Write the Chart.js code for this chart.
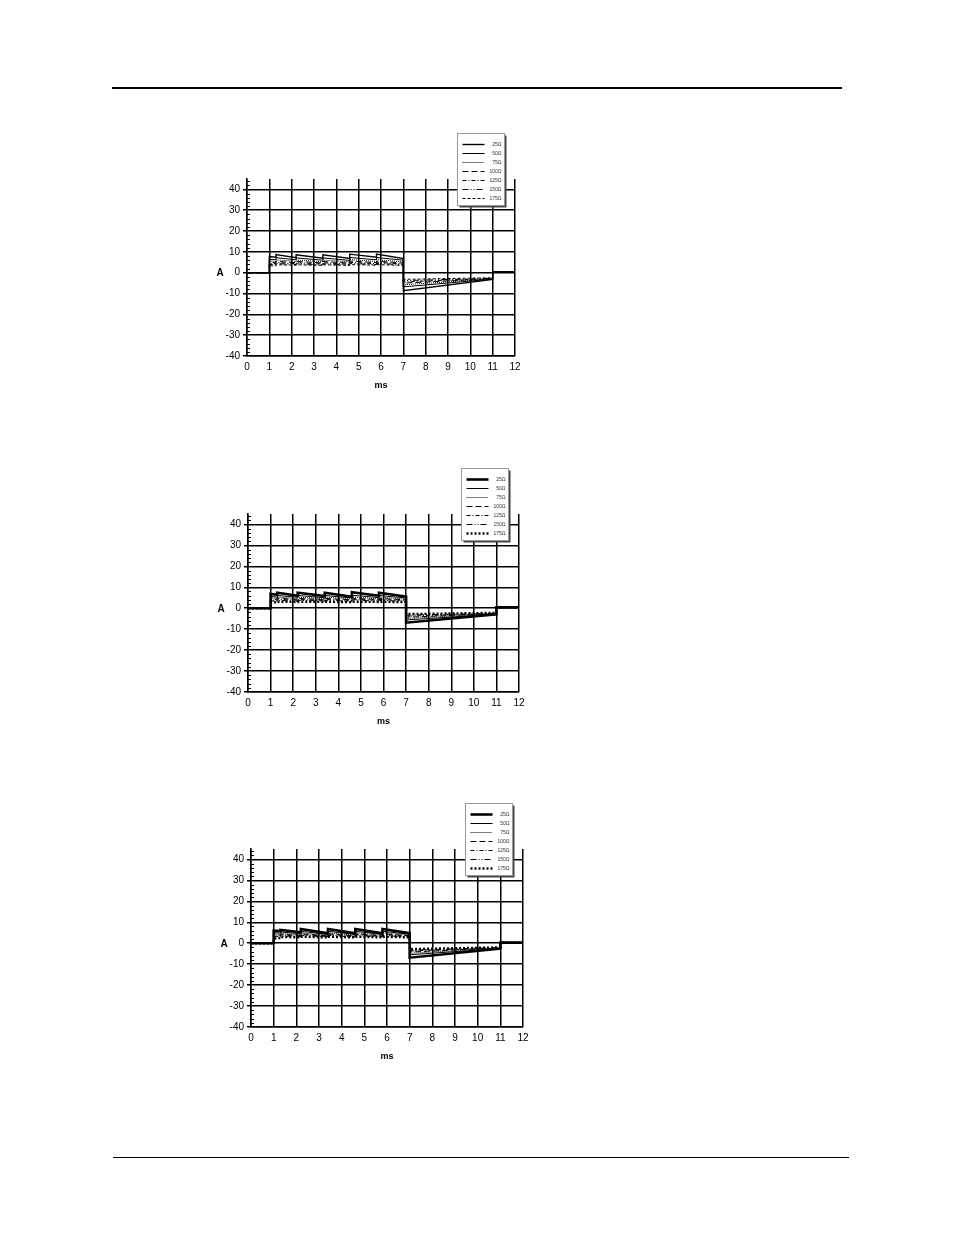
<!DOCTYPE html>
<html>
<head>
<meta charset="utf-8">
<script src="https://cdn.jsdelivr.net/npm/chart.js@4.4.1/dist/chart.umd.min.js"></script>
<style>
  html, body { margin: 0; padding: 0; background: #fff; }
  body { width: 954px; height: 1235px; position: relative; overflow: hidden; }
  .rule { position: absolute; background: #000; }
  .box { position: absolute; }
</style>
</head>
<body>
<div class="rule" style="left:112px; top:87px; width:730px; height:2px"></div>
<div class="rule" style="left:113px; top:1157px; width:736px; height:1px"></div>
<div class="box" id="box1"><canvas id="chart1"></canvas></div>
<div class="box" id="box2"><canvas id="chart2"></canvas></div>
<div class="box" id="box3"><canvas id="chart3"></canvas></div>
<script>
// time knots (ms) shared by every trace; repeated values are the vertical steps
const timesMs = [0, 1, 1, 1.3, 1.3, 2.2, 2.2, 3.4, 3.4, 4.6, 4.6, 5.8, 5.8, 7, 7, 11, 11, 12];
const impedances = ['25Ω', '50Ω', '75Ω', '100Ω', '125Ω', '150Ω', '175Ω'];
const xTicks = [0, 1, 2, 3, 4, 5, 6, 7, 8, 9, 10, 11, 12];
const yTicks = [-40, -30, -20, -10, 0, 10, 20, 30, 40];
const yMinorStep = 2;

// chart 1 currents (A)
const amps1_25  = [0, 0, 7.8, 7.4, 8.7, 7.2, 8.6, 7.0, 8.6, 6.8, 8.9, 7.4, 8.9, 6.8, -8.6, -3.2, 0.4, 0.4];
const amps1_50  = [0, 0, 6.5, 6.2, 7.2, 6.2, 7.1, 6.0, 7.1, 5.9, 7.3, 6.2, 7.3, 6.0, -6.8, -3.1, 0.4, 0.4];
const amps1_75  = [0, 0, 5.6, 5.4, 6.2, 5.4, 6.1, 5.3, 6.1, 5.2, 6.3, 5.4, 6.3, 5.2, -5.8, -3.0, 0.4, 0.4];
const amps1_100 = [0, 0, 5.0, 4.8, 5.5, 4.8, 5.4, 4.7, 5.4, 4.6, 5.6, 4.8, 5.6, 4.6, -5.0, -2.9, 0.4, 0.4];
const amps1_125 = [0, 0, 4.5, 4.3, 4.9, 4.3, 4.8, 4.2, 4.8, 4.1, 5.0, 4.3, 5.0, 4.2, -4.4, -2.8, 0.4, 0.4];
const amps1_150 = [0, 0, 4.0, 3.9, 4.4, 3.9, 4.3, 3.8, 4.3, 3.8, 4.5, 3.9, 4.5, 3.8, -3.8, -2.7, 0.4, 0.4];
const amps1_175 = [0, 0, 3.3, 3.3, 3.8, 3.6, 3.8, 3.5, 3.8, 3.5, 3.9, 3.6, 3.9, 3.5, -3.2, -2.4, 0.4, 0.4];

// chart 2 currents (A)
const amps2_25  = [0, 0, 6.8, 6.4, 7.4, 6.0, 7.4, 5.8, 7.4, 5.5, 7.6, 6.0, 7.4, 5.6, -6.9, -2.9, 0.4, 0.4];
const amps2_50  = [0, 0, 5.6, 5.3, 6.1, 5.2, 6.1, 5.0, 6.1, 4.9, 6.2, 5.1, 6.1, 4.9, -5.6, -2.8, 0.4, 0.4];
const amps2_75  = [0, 0, 4.9, 4.7, 5.3, 4.6, 5.3, 4.5, 5.3, 4.4, 5.4, 4.5, 5.3, 4.4, -4.9, -2.7, 0.4, 0.4];
const amps2_100 = [0, 0, 4.4, 4.2, 4.8, 4.2, 4.7, 4.1, 4.7, 4.0, 4.8, 4.1, 4.7, 4.0, -4.3, -2.6, 0.4, 0.4];
const amps2_125 = [0, 0, 3.9, 3.8, 4.3, 3.8, 4.2, 3.7, 4.2, 3.7, 4.3, 3.8, 4.2, 3.7, -3.8, -2.5, 0.4, 0.4];
const amps2_150 = [0, 0, 3.5, 3.4, 3.8, 3.4, 3.8, 3.4, 3.8, 3.3, 3.9, 3.4, 3.8, 3.3, -3.3, -2.4, 0.4, 0.4];
const amps2_175 = [0, 0, 2.8, 2.8, 3.1, 3.0, 3.1, 3.0, 3.1, 2.9, 3.1, 3.0, 3.1, 2.9, -2.8, -2.2, 0.4, 0.4];

// chart 3 currents (A)
const amps3_25  = [0, 0, 6.0, 5.8, 6.3, 5.2, 6.8, 4.7, 6.8, 4.7, 6.8, 4.7, 6.8, 4.8, -6.9, -2.6, 0.3, 0.3];
const amps3_50  = [0, 0, 5.0, 4.8, 5.4, 4.5, 5.7, 4.2, 5.7, 4.2, 5.7, 4.2, 5.7, 4.3, -5.5, -2.5, 0.3, 0.3];
const amps3_75  = [0, 0, 4.4, 4.2, 4.7, 4.0, 5.0, 3.8, 5.0, 3.8, 5.0, 3.8, 5.0, 3.9, -4.8, -2.4, 0.3, 0.3];
const amps3_100 = [0, 0, 4.0, 3.8, 4.3, 3.7, 4.5, 3.5, 4.5, 3.5, 4.5, 3.5, 4.5, 3.6, -4.2, -2.3, 0.3, 0.3];
const amps3_125 = [0, 0, 3.6, 3.5, 3.9, 3.4, 4.1, 3.3, 4.1, 3.3, 4.1, 3.3, 4.1, 3.3, -3.7, -2.2, 0.3, 0.3];
const amps3_150 = [0, 0, 3.3, 3.2, 3.5, 3.1, 3.7, 3.1, 3.7, 3.0, 3.7, 3.1, 3.7, 3.0, -3.3, -2.1, 0.3, 0.3];
const amps3_175 = [0, 0, 2.2, 2.5, 3.0, 2.8, 3.1, 2.8, 3.1, 2.8, 3.1, 2.8, 3.1, 2.8, -2.8, -2.0, 0.3, 0.3];

// line looks, one per impedance
const styles1 = [
  {w: 1.4, dash: []}, {w: 1, dash: []}, {w: 1, dash: [1, 1]}, {w: 1, dash: [6, 3]},
  {w: 1, dash: [4, 2, 1, 2]}, {w: 1, dash: [6, 2, 1, 2, 1, 2]}, {w: 1, dash: [3, 2]}
];
const styles23 = [
  {w: 2.6, dash: []}, {w: 1, dash: []}, {w: 1, dash: [1, 1]}, {w: 1, dash: [6, 3]},
  {w: 1, dash: [4, 2, 1, 2]}, {w: 1, dash: [6, 2, 1, 2, 1, 2]}, {w: 2.4, dash: [2, 2]}
];

const FONT = "'Liberation Sans', Arial, sans-serif";

function points(vals) {
  return vals.map((v, i) => ({x: timesMs[i], y: v}));
}

// minor ticks, axis titles and the boxed legend
const decor = {
  id: 'decor',
  afterDraw(chart) {
    const ctx = chart.ctx;
    const a = chart.chartArea;
    const y = chart.scales.y;
    ctx.save();
    ctx.strokeStyle = '#000';
    ctx.lineWidth = 1;
    for (let v = yTicks[0]; v <= y.max; v += yMinorStep) {
      if (v % 10 === 0) continue;
      const py = Math.round(y.getPixelForValue(v)) + 0.5;
      ctx.beginPath();
      ctx.moveTo(a.left, py);
      ctx.lineTo(a.left + 3, py);
      ctx.stroke();
    }
    ctx.fillStyle = '#000';
    ctx.font = 'bold 10px ' + FONT;
    ctx.textAlign = 'center';
    ctx.textBaseline = 'middle';
    ctx.fillText('A', a.left - 27, y.getPixelForValue(0) + 1);
    ctx.font = 'bold 9px ' + FONT;
    ctx.fillText('ms', (a.left + a.right) / 2, a.bottom + 30);

    // legend box
    const lx = Math.round(a.right - 58) + 0.5;
    const ly = Math.round(a.top - 46) + 0.5;
    const lw = 47, lh = 72;
    ctx.fillStyle = '#444';
    ctx.fillRect(lx + 2, ly + 2, lw, lh);
    ctx.fillStyle = '#fff';
    ctx.fillRect(lx, ly, lw, lh);
    ctx.strokeStyle = '#999';
    ctx.lineWidth = 1;
    ctx.strokeRect(lx, ly, lw, lh);
    chart.data.datasets.forEach((ds, i) => {
      const ry = Math.round(ly + 10 + i * 9) + 0.5;
      ctx.strokeStyle = '#000';
      ctx.lineWidth = ds.borderWidth;
      ctx.setLineDash(ds.borderDash);
      ctx.beginPath();
      ctx.moveTo(lx + 5, ry);
      ctx.lineTo(lx + 27, ry);
      ctx.stroke();
      ctx.setLineDash([]);
      ctx.fillStyle = '#333';
      ctx.font = '5px ' + FONT;
      ctx.textAlign = 'right';
      ctx.textBaseline = 'middle';
      ctx.fillText(ds.label, lx + 44, ry);
    });
    ctx.restore();
  }
};

function makeChart(id, boxId, plot, series, styles) {
  const box = document.getElementById(boxId);
  box.style.left = (plot.l - 50) + 'px';
  box.style.top = (plot.t - 55) + 'px';
  box.style.width = (plot.r - plot.l + 65) + 'px';
  box.style.height = (plot.b - plot.t + 105) + 'px';
  new Chart(document.getElementById(id), {
    type: 'line',
    data: {
      datasets: series.map((vals, i) => ({
        label: impedances[i],
        data: points(vals),
        borderColor: '#000',
        borderWidth: styles[i].w,
        borderDash: styles[i].dash,
        pointRadius: 0,
        tension: 0,
        fill: false
      }))
    },
    options: {
      responsive: true,
      maintainAspectRatio: false,
      animation: false,
      layout: { padding: { top: 55, right: 15, left: 0, bottom: 0 } },
      plugins: { legend: { display: false }, tooltip: { enabled: false } },
      scales: {
        x: {
          type: 'linear',
          min: xTicks[0],
          max: xTicks[xTicks.length - 1],
          afterBuildTicks: s => { s.ticks = xTicks.map(v => ({value: v})); },
          afterFit: s => { s.height = 50; },
          ticks: { color: '#000', font: { family: FONT, size: 10 }, padding: 5, maxRotation: 0 },
          grid: { color: '#000', lineWidth: 1.5, drawTicks: false },
          border: { color: '#000', width: 1.5 }
        },
        y: {
          min: yTicks[0],
          max: 45,
          afterBuildTicks: s => { s.ticks = yTicks.map(v => ({value: v})); },
          afterFit: s => { s.width = 50; },
          ticks: { color: '#000', font: { family: FONT, size: 10 }, padding: 3 },
          grid: { color: '#000', lineWidth: 1.5, tickLength: 4 },
          border: { color: '#000', width: 1.5 }
        }
      }
    },
    plugins: [decor]
  });
}

makeChart('chart1', 'box1', {l: 247, t: 179, r: 515, b: 356},
  [amps1_25, amps1_50, amps1_75, amps1_100, amps1_125, amps1_150, amps1_175], styles1);
makeChart('chart2', 'box2', {l: 248, t: 514, r: 519, b: 692},
  [amps2_25, amps2_50, amps2_75, amps2_100, amps2_125, amps2_150, amps2_175], styles23);
makeChart('chart3', 'box3', {l: 251, t: 849, r: 523, b: 1027},
  [amps3_25, amps3_50, amps3_75, amps3_100, amps3_125, amps3_150, amps3_175], styles23);
</script>
</body>
</html>
